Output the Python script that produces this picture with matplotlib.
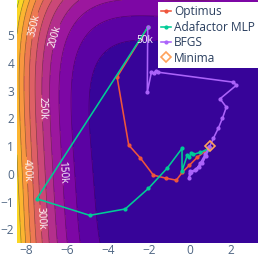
import numpy as np
import matplotlib
matplotlib.use("Agg")
import matplotlib.pyplot as plt
from matplotlib.colors import LinearSegmentedColormap

plt.rcParams['font.family'] = ['Open Sans', 'DejaVu Sans']

# ---- data ----
optimus_x = [-2.05, -3.55, -2.98, -2.41, -1.77, -1.14, -0.65, -0.35, -0.01, 0.38, 0.77, 0.97]
optimus_y = [5.29, 3.50, 1.04, 0.57, -0.05, -0.16, -0.23, 0.06, 0.31, 0.60, 0.82, 0.96]

adafactor_x = [-2.05, -7.48, -4.89, -3.15, -2.02, -1.09, -0.37, -0.37, -0.11, -0.02, 0.08, 0.18, 0.53, 0.85, 0.97]
adafactor_y = [5.29, -0.90, -1.50, -1.27, -0.53, 0.21, 0.92, 0.10, 0.68, 0.60, 0.74, 0.70, 0.78, 0.87, 0.96]

bfgs_x = [-2.05, -2.07, -1.87, -1.75, -1.65, -1.53, 2.15, 2.29, 1.49, 1.80, 1.61, 1.41, 1.17, 0.97,
          0.77, 0.53, 0.33, 0.09, -0.03, 0.00, 0.04, 0.28, 0.45, 0.63, 0.80, 0.97]
bfgs_y = [5.29, 2.95, 3.67, 3.64, 3.71, 3.67, 3.31, 3.20, 2.71, 2.41, 2.01, 1.65, 1.29, 0.96,
          0.71, 0.39, 0.17, 0.06, -0.16, 0.02, 0.10, 0.13, 0.25, 0.39, 0.65, 0.98]

minima_x = [1.0]
minima_y = [1.0]

series_names = ["Optimus", "Adafactor MLP", "BFGS", "Minima"]

# contour levels shown with labels
label_levels = [350000, 200000, 250000, 150000, 400000, 300000, 50000]

# ---- objective surface (Rosenbrock, 3 coordinates, last one held at 1) ----
x_lim = (-8.45, 3.35)
y_lim = (-2.51, 6.28)
gx = np.linspace(x_lim[0], x_lim[1], 500)
gy = np.linspace(y_lim[0], y_lim[1], 500)
X, Y = np.meshgrid(gx, gy)
Z = (1 - X) ** 2 + 100 * (Y - X ** 2) ** 2 + (1 - Y) ** 2 + 100 * (1 - Y ** 2) ** 2

plasma_plotly = ['#0d0887', '#46039f', '#7201a8', '#9c179e', '#bd3786',
                 '#d8576b', '#ed7953', '#fb9f3a', '#fdca26', '#f0f921']
cmap = LinearSegmentedColormap.from_list("plasma_plotly", plasma_plotly)

step = 50000
levels = np.arange(0, 650001, step)
nb = len(levels) - 1
band_colors = [cmap(min((k + 1) / 12.0, 1.0)) for k in range(nb)]

fig = plt.figure(figsize=(2.58, 2.58), dpi=100)
ax = fig.add_axes([17 / 258, 14.7 / 258, 241 / 258, 243.3 / 258])

ax.contourf(X, Y, Z, levels=levels, colors=band_colors)

def fmt(v):
    return f"{int(round(v / 1000))}k"

label_pos = [(-7.66, 5.37), (-6.58, 4.95), (-7.31, 2.37), (-6.33, 0.06),
             (-8.05, 0.13), (-7.41, -1.60), (-2.17, 4.83)]
label_map = dict(zip(label_levels, label_pos))

for lv in levels[1:-1]:
    cs = ax.contour(X, Y, Z, levels=[lv], colors='#1a0030', linewidths=0.5, alpha=0.45)
    if int(lv) in label_map:
        txts = ax.clabel(cs, levels=[lv], manual=[label_map[int(lv)]], inline=True, fmt=fmt,
                         fontsize=7.3, colors='white', inline_spacing=2)
        for t in txts:
            t.set_alpha(1.0)
            t.set_color('white')

lw = 1.15
ms = 2.0
ax.plot(optimus_x, optimus_y, color='#EF553B', lw=lw, marker='o', ms=ms, label=series_names[0])
ax.plot(adafactor_x, adafactor_y, color='#00CC96', lw=lw, marker='o', ms=ms, label=series_names[1])
ax.plot(bfgs_x, bfgs_y, color='#AB63FA', lw=lw, marker='o', ms=ms, label=series_names[2])
ax.plot(minima_x, minima_y, linestyle='none', marker='D', mfc='none', mec='#FFA15A',
        ms=5.5, mew=1.2, label=series_names[3])

ax.set_xlim(*x_lim)
ax.set_ylim(*y_lim)
ax.set_xticks([-8, -6, -4, -2, 0, 2])
ax.set_yticks([-2, -1, 0, 1, 2, 3, 4, 5])
ax.tick_params(axis='x', length=0, labelsize=8.6, labelcolor='#506784', pad=0.8)
ax.tick_params(axis='y', length=0, labelsize=8.6, labelcolor='#506784', pad=2.0)
for s in ax.spines.values():
    s.set_visible(False)

leg = ax.legend(loc='upper right', bbox_to_anchor=(1.0, 0.99), borderaxespad=0,
                frameon=True, fancybox=False, facecolor='white', edgecolor='none',
                framealpha=1.0, fontsize=8.6, handlelength=0.8, handletextpad=0.3,
                labelspacing=0.2, borderpad=0.25, numpoints=1)
for t in leg.get_texts():
    t.set_color('#2a3f5f')

fig.savefig("out.png", dpi=100)
